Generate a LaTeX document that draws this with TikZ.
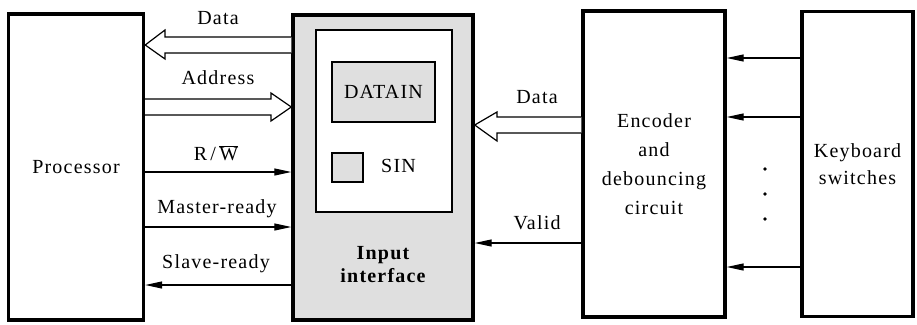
\documentclass[tikz,border=0pt]{standalone}
\usepackage{fontspec}
\setmainfont{Liberation Serif}[LetterSpace=6]
\usetikzlibrary{arrows.meta,calc}

\tikzset{
  unit/.style={draw, line width=3.4pt, inner sep=0pt},
  reg/.style={draw, line width=1.6pt, fill=gray!25, inner sep=0pt},
  lbl/.style={font=\fontsize{20}{23}\selectfont, inner sep=0pt},
  wire/.style={line width=1.2pt, -{Triangle[length=17pt,width=7pt]}},
  bus/.style={line width=1.2pt, fill=white},
}

\begin{document}
\begin{tikzpicture}[x=1pt,y=-1pt]
\useasboundingbox (0,0) rectangle (917,324);

% main blocks
\node[unit, minimum width=135pt, minimum height=306pt] (proc) at (76,167) {};
\node[lbl] at (proc.center) {Processor};

\node[unit, fill=gray!25, minimum width=180pt, minimum height=305pt] (iface) at (383,167.5) {};
\node[draw, line width=1.6pt, fill=white, minimum width=136pt, minimum height=182pt, inner sep=0pt] (inner) at (384,121) {};
\node[reg, minimum width=103pt, minimum height=60pt] (datain) at (383.5,92) {};
\node[lbl] at (datain.center) {DATAIN};
\node[reg, minimum width=31pt, minimum height=29pt] (sin) at (347.5,167.5) {};
\node[lbl, anchor=west] at (381,166) {SIN};
\node[lbl, font=\fontsize{20}{23}\selectfont\bfseries, align=center] at (383,265) {Input\\[0pt]interface};

\node[unit, minimum width=142pt, minimum height=306pt] (enc) at (654,164) {};
\node[lbl, align=center] at (enc.center) {Encoder\\[6pt]and\\[6pt]debouncing\\[6pt]circuit};

\node[unit, minimum width=111pt, minimum height=305pt] (kbd) at (857.5,164) {};
\node[lbl, align=center] at (kbd.center) {Keyboard\\[4pt]switches};

% processor <-> interface: data bus (to processor)
\draw[bus] (iface.west |- 0,37) -- (165,37) -- (165,30) -- (proc.east |- 0,45)
  -- (165,59) -- (165,53) -- (iface.west |- 0,53);
\node[lbl] at (218,18) {Data};

% address bus (to interface)
\draw[bus] (proc.east |- 0,99) -- (271,99) -- (271,93) -- (iface.west |- 0,107)
  -- (271,121) -- (271,115) -- (proc.east |- 0,115);
\node[lbl] at (218,78) {Address};

% control lines
\draw[wire] (proc.east |- 0,172) -- (iface.west |- 0,172);
\node[lbl] at (216,153) {R\,/\,$\overline{\mbox{W}}$};
\draw[wire] (proc.east |- 0,227) -- (iface.west |- 0,227);
\node[lbl] at (217,209) {Master-ready};
\draw[wire] (iface.west |- 0,285) -- (proc.east |- 0,285);
\node[lbl] at (216,264) {Slave-ready};

% encoder -> interface
\draw[bus] (enc.west |- 0,117) -- (497,117) -- (497,112) -- (iface.east |- 0,125)
  -- (497,141) -- (497,133) -- (enc.west |- 0,133);
\node[lbl] at (537,97) {Data};
\draw[wire] (enc.west |- 0,243) -- (iface.east |- 0,243);
\node[lbl] at (537,223) {Valid};

% keyboard -> encoder
\draw[wire] (kbd.west |- 0,58) -- (enc.east |- 0,58);
\draw[wire] (kbd.west |- 0,117) -- (enc.east |- 0,117);
\draw[wire] (kbd.west |- 0,267) -- (enc.east |- 0,267);
\foreach \yy in {169,194,219} \fill (765,\yy) circle (1.8pt);
\end{tikzpicture}
\end{document}
